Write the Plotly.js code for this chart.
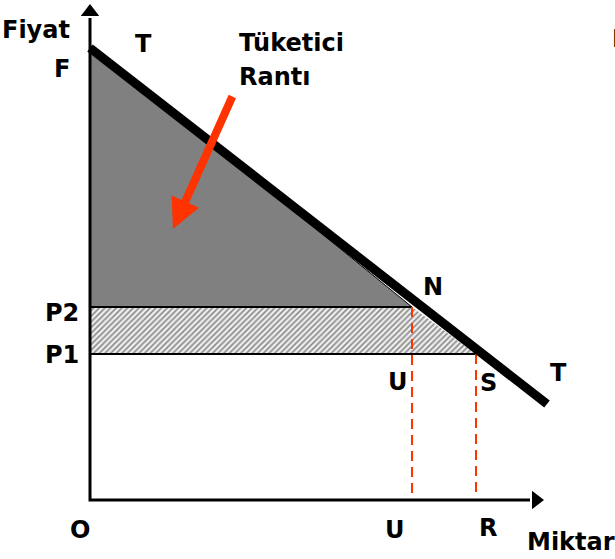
<!DOCTYPE html>
<html>
<head>
<meta charset="utf-8">
<script src="https://cdn.plot.ly/plotly-3.0.1.min.js"></script>
<style>
  body { margin: 0; background: #fff; }
  #plot { width: 615px; height: 559px; }
</style>
</head>
<body>
<div id="plot"></div>
<script>
// demand curve T (quantity, price)
var demandQ = [0, 457];
var demandP = [452, 96];

// price levels and quantities
var priceF = 455;
var priceP2 = 193;
var priceP1 = 146;
var qtyU = 322;
var qtyR = 386;

// consumer surplus triangle (F - P2 - N)
var rantQ = [0, 0, qtyU, 0];
var rantP = [priceF, priceP2, priceP2, priceF];

// hatched strip between P1 and P2
var stripQ = [0, qtyU, qtyR, 0, 0];
var stripP = [priceP2, priceP2, priceP1, priceP1, priceP2];

var red = '#ff3300';
var fnt = {family: 'DejaVu Sans, Verdana, sans-serif', size: 24, color: 'black', weight: 'bold'};

var traces = [
  {
    x: stripQ, y: stripP, mode: 'lines', fill: 'toself',
    fillcolor: '#eeeeee',
    fillpattern: {shape: '/', fgcolor: '#8a8a8a', bgcolor: '#eeeeee', size: 4, solidity: 0.4},
    line: {color: 'rgba(0,0,0,0)', width: 0}
  },
  {
    x: rantQ, y: rantP, mode: 'lines', fill: 'toself',
    fillcolor: '#808080',
    line: {color: 'black', width: 1}
  },
  // P2 and P1 lines
  {x: [0, qtyU], y: [priceP2, priceP2], mode: 'lines', line: {color: 'black', width: 2}},
  {x: [0, qtyR], y: [priceP1, priceP1], mode: 'lines', line: {color: 'black', width: 2}},
  // dashed U and R
  {x: [qtyU, qtyU], y: [priceP2, 0], mode: 'lines', line: {color: red, width: 2, dash: '10px,6px'}},
  {x: [qtyR, qtyR], y: [priceP1, 4], mode: 'lines', line: {color: red, width: 2, dash: '10px,6px'}},
  // demand line
  {x: demandQ, y: demandP, mode: 'lines', line: {color: 'black', width: 9}},
  // axes
  {x: [0, 0, 440], y: [482, 0, 0], mode: 'lines', line: {color: 'black', width: 3}},
  {x: [0], y: [488], mode: 'markers', marker: {symbol: 'triangle-up', size: 16, color: 'black'}},
  {x: [446], y: [0], mode: 'markers', marker: {symbol: 'triangle-right', size: 16, color: 'black'}}
];
traces.forEach(function (t) { t.type = 'scatter'; t.showlegend = false; t.hoverinfo = 'skip'; });

function lbl(txt, x, y, extra) {
  var a = {text: txt, x: x, y: y, xref: 'x', yref: 'y', showarrow: false, font: fnt};
  for (var k in extra) a[k] = extra[k];
  return a;
}

var annotations = [
  lbl('Fiyat', -54, 470),
  lbl('F', -28, 431),
  lbl('T', 53, 456),
  lbl('Tüketici', 147, 457, {xanchor: 'left'}),
  lbl('Rantı', 147, 423, {xanchor: 'left'}),
  lbl('N', 343, 213),
  lbl('P2', -28, 187),
  lbl('P1', -28, 145),
  lbl('U', 308, 118),
  lbl('S', 398, 117),
  lbl('T', 468, 127),
  lbl('O', -10, -30),
  lbl('U', 305, -30),
  lbl('R', 398, -28),
  lbl('Miktar', 481, -42),
  lbl('D', 520, 461, {xanchor: 'left'}),
  {
    x: 83, y: 271, ax: 143, ay: 405, xref: 'x', yref: 'y', axref: 'x', ayref: 'y',
    text: '', showarrow: true, arrowhead: 2, arrowsize: 0.75, arrowwidth: 8, arrowcolor: red
  }
];

var layout = {
  width: 615,
  height: 559,
  margin: {l: 0, r: 0, t: 0, b: 0},
  paper_bgcolor: 'white',
  plot_bgcolor: 'white',
  xaxis: {range: [-90, 525], visible: false, fixedrange: true},
  yaxis: {range: [-59, 500], visible: false, fixedrange: true},
  annotations: annotations,
  showlegend: false
};

Plotly.newPlot('plot', traces, layout, {displayModeBar: false, staticPlot: true});
</script>
</body>
</html>
